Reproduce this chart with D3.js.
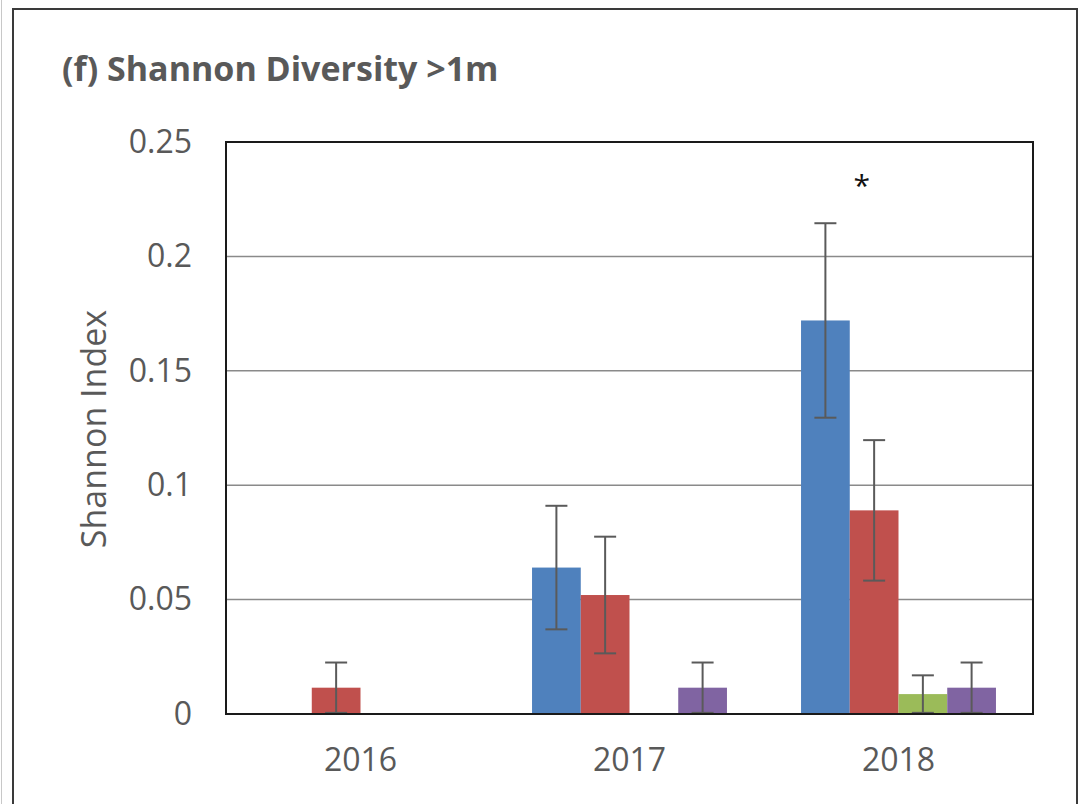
<!DOCTYPE html>
<html>
<head>
<meta charset="utf-8">
<script src="https://cdn.jsdelivr.net/npm/d3@7"></script>
<style>
  html, body { margin: 0; padding: 0; background: #fff; }
  svg { display: block; }
</style>
</head>
<body>
<svg id="chart" width="1082" height="804"></svg>
<script>
// Years on the category axis
const years = ["2016", "2017", "2018"];
// Four treatment series, in drawing order within each year
const seriesNames = ["S1", "S2", "S3", "S4"];
const seriesColors = ["#4F81BD", "#C0504D", "#9BBB59", "#8064A2"];
// Mean Shannon index per series (rows) and year (columns)
const meanS1 = [0, 0.064, 0.172];
const meanS2 = [0.0115, 0.052, 0.089];
const meanS3 = [0, 0, 0.0087];
const meanS4 = [0, 0.0115, 0.0115];
// Error bar half-lengths, same layout
const errS1 = [0, 0.027, 0.0425];
const errS2 = [0.011, 0.0255, 0.0307];
const errS3 = [0, 0, 0.0082];
const errS4 = [0, 0.011, 0.011];
// Y axis ticks
const yTicks = [0, 0.05, 0.1, 0.15, 0.2, 0.25];
const yTickLabels = ["0", "0.05", "0.1", "0.15", "0.2", "0.25"];
// Significance marker above the 2018 group
const markYear = "2018";
const markValue = 0.2316;

const means = [meanS1, meanS2, meanS3, meanS4];
const errs = [errS1, errS2, errS3, errS4];

const svg = d3.select("#chart");
const plot = { left: 226, top: 142, right: 1033, bottom: 714 };
const textColor = "#595959";
const font = "'Open Sans', 'Noto Sans', sans-serif";

// Outer panel frame
svg.append("line").attr("x1", 1.5).attr("x2", 1.5).attr("y1", 0).attr("y2", 804)
  .attr("stroke", "#c8c8c8").attr("stroke-width", 1);
svg.append("rect").attr("x", 13).attr("y", 9).attr("width", 1064).attr("height", 820)
  .attr("fill", "none").attr("stroke", "#3a3a3a").attr("stroke-width", 2);

const x0 = d3.scaleBand().domain(years).range([plot.left, plot.right]).padding(0);
const x1 = d3.scaleBand().domain(seriesNames).range([0, x0.bandwidth()])
  .paddingInner(0).paddingOuter(0.76);
const y = d3.scaleLinear().domain([0, 0.25]).range([plot.bottom, plot.top]);

// Horizontal gridlines
svg.append("g").selectAll("line").data(yTicks.slice(1, -1)).join("line")
  .attr("x1", plot.left).attr("x2", plot.right)
  .attr("y1", d => y(d)).attr("y2", d => y(d))
  .attr("stroke", "#8a8a8a").attr("stroke-width", 1.5);

// Bars
const barData = [];
seriesNames.forEach((s, i) => {
  years.forEach((yr, j) => {
    barData.push({ series: s, year: yr, value: means[i][j], err: errs[i][j], color: seriesColors[i] });
  });
});

svg.append("g").selectAll("rect").data(barData.filter(d => d.value > 0)).join("rect")
  .attr("x", d => x0(d.year) + x1(d.series))
  .attr("width", x1.bandwidth())
  .attr("y", d => y(d.value))
  .attr("height", d => y(0) - y(d.value))
  .attr("fill", d => d.color);

// Error bars
const eb = svg.append("g").attr("stroke", "#5a5a5a").attr("stroke-width", 2);
barData.filter(d => d.err > 0).forEach(d => {
  const cx = x0(d.year) + x1(d.series) + x1.bandwidth() / 2;
  const hi = y(d.value + d.err), lo = y(Math.max(0, d.value - d.err));
  eb.append("line").attr("x1", cx).attr("x2", cx).attr("y1", hi).attr("y2", lo);
  eb.append("line").attr("x1", cx - 11).attr("x2", cx + 11).attr("y1", hi).attr("y2", hi);
  eb.append("line").attr("x1", cx - 11).attr("x2", cx + 11).attr("y1", lo).attr("y2", lo);
});

// Plot frame
svg.append("rect").attr("x", plot.left).attr("y", plot.top)
  .attr("width", plot.right - plot.left).attr("height", plot.bottom - plot.top)
  .attr("fill", "none").attr("stroke", "#1a1a1a").attr("stroke-width", 2);

// Y axis labels
const yAxis = d3.axisLeft(y).tickValues(yTicks)
  .tickFormat((d, i) => yTickLabels[i]).tickSize(0).tickPadding(34);
const gy = svg.append("g").attr("transform", `translate(${plot.left},0)`).call(yAxis);
gy.select(".domain").remove();
gy.selectAll("text").attr("fill", textColor).style("font-family", font).style("font-size", "32px");

// X axis labels
const xAxis = d3.axisBottom(x0).tickSize(0).tickPadding(34);
const gx = svg.append("g").attr("transform", `translate(0,${plot.bottom})`).call(xAxis);
gx.select(".domain").remove();
gx.selectAll("text").attr("fill", textColor).style("font-family", font).style("font-size", "32px");

// Y axis title
svg.append("text")
  .attr("transform", `translate(106,${(plot.top + plot.bottom) / 2 + 1}) rotate(-90)`)
  .attr("text-anchor", "middle")
  .attr("fill", textColor).style("font-family", font).style("font-size", "34px")
  .text("Shannon Index");

// Chart title
svg.append("text").attr("x", 62).attr("y", 81)
  .attr("fill", textColor).style("font-family", font).style("font-size", "34px").style("font-weight", "bold")
  .text("(f) Shannon Diversity >1m");

// Significance asterisk
svg.append("text")
  .attr("x", x0(markYear) + x1("S2") + 12)
  .attr("y", y(markValue))
  .attr("text-anchor", "middle").attr("dominant-baseline", "central")
  .attr("fill", "#111").style("font-family", font).style("font-size", "30px")
  .text("*");
</script>
</body>
</html>
